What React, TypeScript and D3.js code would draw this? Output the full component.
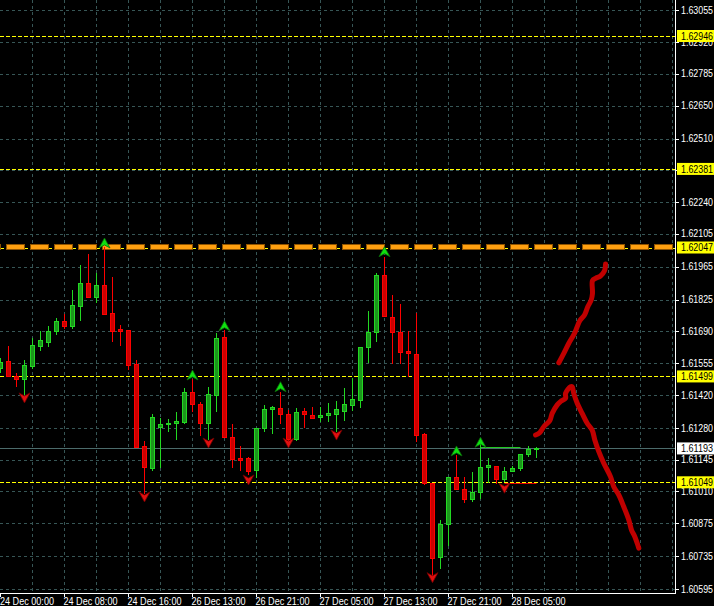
import React from 'react';
import * as d3 from 'd3';

// ---- data (H1 candles) ----
const opens = [1.61535,1.61565,1.61502,1.61487,1.61544,1.61629,1.61646,1.61693,1.61735,1.61715,
1.61799,1.61896,1.61838,1.61887,1.61769,1.61701,1.61696,1.61551,1.61203,1.61109,
1.61283,1.61296,1.61300,1.61307,1.61431,1.61380,1.61300,1.61420,1.61668,1.61240,
1.61152,1.61152,1.61100,1.61279,1.61360,1.61364,1.61338,1.61233,1.61351,1.61334,
1.61325,1.61334,1.61338,1.61354,1.61378,1.61398,1.61622,1.61686,1.61930,1.61750,
1.61687,1.61607,1.61594,1.61254,1.61047,1.60730,1.60871,1.61071,1.61019,1.60979,
1.61007,1.61116,1.61120,1.61063,1.61096,1.61109,1.61168,1.61189];
const highs = [1.61578,1.61628,1.61512,1.61569,1.61662,1.61692,1.61713,1.61746,1.61763,1.61866,
1.61973,1.62021,1.61937,1.62049,1.61921,1.61718,1.61696,1.61569,1.61224,1.61340,
1.61321,1.61317,1.61347,1.61448,1.61487,1.61390,1.61455,1.61682,1.61696,1.61297,
1.61203,1.61157,1.61279,1.61377,1.61373,1.61434,1.61356,1.61364,1.61365,1.61368,
1.61369,1.61384,1.61393,1.61451,1.61492,1.61622,1.61777,1.61937,1.62008,1.61845,
1.61807,1.61691,1.61768,1.61257,1.61047,1.60889,1.61071,1.61165,1.61071,1.61094,
1.61229,1.61151,1.61120,1.61116,1.61120,1.61169,1.61203,1.61198];
const lows = [1.61518,1.61501,1.61460,1.61425,1.61534,1.61611,1.61629,1.61678,1.61704,1.61706,
1.61739,1.61837,1.61817,1.61766,1.61649,1.61632,1.61531,1.61200,1.61005,1.61103,
1.61112,1.61268,1.61233,1.61303,1.61350,1.61250,1.61232,1.61350,1.61243,1.61112,
1.61100,1.61085,1.61073,1.61268,1.61260,1.61301,1.61210,1.61229,1.61286,1.61321,
1.61311,1.61310,1.61266,1.61315,1.61358,1.61370,1.61562,1.61651,1.61754,1.61556,
1.61556,1.61500,1.61223,1.61041,1.60656,1.60683,1.60783,1.61019,1.60966,1.60971,
1.60981,1.61049,1.61045,1.61055,1.61095,1.61100,1.61162,1.61157];
const closes = [1.61561,1.61502,1.61488,1.61548,1.61632,1.61654,1.61692,1.61735,1.61715,1.61803,
1.61896,1.61838,1.61887,1.61766,1.61693,1.61691,1.61549,1.61200,1.61115,1.61326,
1.61297,1.61303,1.61309,1.61434,1.61380,1.61300,1.61423,1.61662,1.61243,1.61148,
1.61143,1.61098,1.61279,1.61360,1.61368,1.61338,1.61233,1.61347,1.61338,1.61321,
1.61334,1.61343,1.61360,1.61381,1.61402,1.61622,1.61686,1.61930,1.61754,1.61686,
1.61604,1.61598,1.61250,1.61047,1.60726,1.60872,1.61071,1.61019,1.60979,1.61007,
1.61116,1.61122,1.61063,1.61098,1.61110,1.61169,1.61189,1.61193];

const timeLabels = ['24 Dec 00:00','24 Dec 08:00','24 Dec 16:00','26 Dec 13:00','26 Dec 21:00','27 Dec 05:00','27 Dec 13:00','27 Dec 21:00','28 Dec 05:00'];
const priceTicks = [1.63055,1.62920,1.62785,1.62650,1.62510,1.62375,1.62240,1.62105,1.61965,1.61825,1.61690,1.61555,1.61420,1.61280,1.61145,1.61010,1.60875,1.60735,1.60595];

const yellowLevels = [1.62946, 1.62381, 1.62047, 1.61499, 1.61049];
const orangeLevel = 1.62047;
const bidPrice = 1.61193;

const upFractalIdx = [13, 24, 28, 35, 48, 57, 60];
const upFractalVal = [1.62045, 1.61484, 1.61693, 1.61434, 1.62008, 1.61161, 1.61198];
const downFractalIdx = [3, 18, 26, 31, 36, 42, 54, 63];
const downFractalVal = [1.61429, 1.61008, 1.61237, 1.61080, 1.61237, 1.61271, 1.60665, 1.61045];

const greenSegFrom = 60, greenSegTo = 65, greenSegVal = 1.61197;
const redSegFrom = 63, redSegTo = 67, redSegVal = 1.61045;

// hand-drawn annotation strokes (bar index, price)
const stroke1Idx = [69.79,70.41,71.04,71.75,72.41,73.0,73.41,73.84,74.0,74.0,74.38,75.0,75.5,75.63];
const stroke1Px = [1.61557,1.61597,1.61640,1.61682,1.61736,1.61760,1.61795,1.61824,1.61852,1.61906,1.61916,1.61926,1.61948,1.61977];
const stroke2Idx = [66.88,67.41,67.91,68.66,68.96,69.59,70.0,70.63,70.63,71.25,71.46,71.66,72.09,72.71,73.34,73.96,74.29,74.79,75.41,76.25,76.66,77.29,77.91,78.54,78.88,79.29,79.59,79.79];
const stroke2Px = [1.61250,1.61260,1.61285,1.61311,1.61342,1.61378,1.61392,1.61406,1.61427,1.61455,1.61455,1.61427,1.61385,1.61342,1.61300,1.61271,1.61229,1.61179,1.61130,1.61073,1.61030,1.60995,1.60945,1.60889,1.60846,1.60818,1.60790,1.60769];

const FONT = '"Liberation Sans", Arial, sans-serif';

export default function App() {
  const W = 714, H = 606;
  const plotR = 675, plotB = 593;
  const x = d3.scaleLinear().domain([0, 84]).range([0.5, 672.5]);
  const y = d3.scaleLinear().domain([1.61049, 1.62946]).range([482.3, 36]);

  const bull = { wick: '#22d822', stroke: '#22d822', fill: '#1c961c' };
  const bear = { wick: '#ff0000', stroke: '#ff0000', fill: '#cc0000' };

  const vGrid = d3.range(4, 85, 4).map((i) => x(i)).filter((v) => v < plotR);
  const line = d3.line<[number, number]>().x((d) => x(d[0])).y((d) => y(d[1])).curve(d3.curveCatmullRom);
  const s1 = line(stroke1Idx.map((v, k) => [v, stroke1Px[k]] as [number, number])) || '';
  const s2 = line(stroke2Idx.map((v, k) => [v, stroke2Px[k]] as [number, number])) || '';

  const upArrow = 'M0,0 L5.5,10 L0,7 L-5.5,10 Z';
  const downArrow = 'M0,0 L5.5,-10 L0,-7 L-5.5,-10 Z';

  return (
    <svg width={W} height={H} style={{ position: 'absolute', left: 0, top: 0, display: 'block', background: '#000' }}>
      <rect x={0} y={0} width={W} height={H} fill="#000" />
      <defs>
        <clipPath id="plot"><rect x={0} y={0} width={plotR} height={plotB} /></clipPath>
      </defs>
      <g clipPath="url(#plot)">
        {/* grid */}
        {priceTicks.map((p, k) => (
          <line key={'hg' + k} x1={0} x2={plotR} y1={Math.round(y(p)) + 0.5} y2={Math.round(y(p)) + 0.5} stroke="#375656" strokeDasharray="3,3" />
        ))}
        {vGrid.map((vx, k) => (
          <line key={'vg' + k} x1={vx} x2={vx} y1={0} y2={plotB} stroke="#375656" strokeDasharray="3,3" />
        ))}
        {/* yellow levels */}
        {yellowLevels.map((p, k) => (
          <line key={'yl' + k} x1={0} x2={plotR} y1={Math.round(y(p)) + 0.5} y2={Math.round(y(p)) + 0.5} stroke="#ffff00" strokeDasharray="4,2" />
        ))}
        {/* orange thick dashed level */}
        <line x1={0} x2={plotR} y1={y(orangeLevel) - 0.5} y2={y(orangeLevel) - 0.5} stroke="#8f5400" strokeWidth={6} strokeDasharray="19,5" strokeDashoffset={18} />
        <line x1={0} x2={plotR} y1={y(orangeLevel) - 0.5} y2={y(orangeLevel) - 0.5} stroke="#ffa010" strokeWidth={4} strokeDasharray="17,7" strokeDashoffset={17} />
        {/* bid line */}
        <line x1={0} x2={plotR} y1={Math.round(y(bidPrice)) + 0.5} y2={Math.round(y(bidPrice)) + 0.5} stroke="#4c6c6c" />
        {/* candles */}
        {opens.map((o, i) => {
          const c = closes[i];
          const up = c >= o;
          const col = up ? bull : bear;
          const cx = x(i);
          const yt = Math.round(y(Math.max(o, c))) + 0.5;
          const yb = Math.round(y(Math.min(o, c))) + 0.5;
          const yh = Math.round(y(highs[i]));
          const yl = Math.round(y(lows[i])) + 1;
          return (
            <g key={'c' + i}>
              <line x1={cx} x2={cx} y1={yh} y2={yl} stroke={col.wick} />
              {yb - yt >= 1 ? (
                <rect x={cx - 2} y={yt} width={4} height={yb - yt} fill={col.fill} stroke={col.stroke} />
              ) : (
                <line x1={cx - 2.5} x2={cx + 2.5} y1={yt} y2={yt} stroke={col.stroke} />
              )}
            </g>
          );
        })}
        {/* fractal level segments */}
        <line x1={x(greenSegFrom)} x2={x(greenSegTo)} y1={Math.round(y(greenSegVal)) + 0.5} y2={Math.round(y(greenSegVal)) + 0.5} stroke="#22c822" />
        <line x1={x(redSegFrom)} x2={x(redSegTo)} y1={Math.round(y(redSegVal)) + 0.5} y2={Math.round(y(redSegVal)) + 0.5} stroke="#e00000" />
        {/* fractal arrows */}
        {upFractalIdx.map((i, k) => (
          <path key={'ua' + k} d={upArrow} transform={`translate(${x(i)},${y(upFractalVal[k]) - 10})`} fill="#10e010" stroke="#0a6a0a" strokeWidth={0.8} />
        ))}
        {downFractalIdx.map((i, k) => (
          <path key={'da' + k} d={downArrow} transform={`translate(${x(i)},${y(downFractalVal[k]) + 10})`} fill="#e01010" stroke="#700000" strokeWidth={0.8} />
        ))}
        {/* hand-drawn strokes */}
        <path d={s1} fill="none" stroke="#c00000" strokeWidth={5} strokeLinecap="round" strokeLinejoin="round" />
        <path d={s2} fill="none" stroke="#c00000" strokeWidth={5} strokeLinecap="round" strokeLinejoin="round" />
      </g>
      {/* axes */}
      <line x1={plotR + 0.5} x2={plotR + 0.5} y1={0} y2={plotB + 1} stroke="#ffffff" />
      <line x1={0} x2={plotR + 1} y1={plotB + 0.5} y2={plotB + 0.5} stroke="#ffffff" />
      {priceTicks.map((p, k) => (
        <g key={'pt' + k}>
          <line x1={plotR} x2={plotR + 4} y1={Math.round(y(p)) + 0.5} y2={Math.round(y(p)) + 0.5} stroke="#ffffff" />
          <text x={681} y={y(p) + 3.6} fill="#ffffff" fontFamily={FONT} fontSize={10} textLength={32} lengthAdjust="spacingAndGlyphs">{p.toFixed(5)}</text>
        </g>
      ))}
      {yellowLevels.map((p, k) => (
        <g key={'yb' + k}>
          <rect x={677} y={y(p) - 6} width={37} height={12} fill="#ffff00" />
          <text x={681} y={y(p) + 3.6} fill="#000000" fontFamily={FONT} fontSize={10} textLength={32} lengthAdjust="spacingAndGlyphs">{p.toFixed(5)}</text>
        </g>
      ))}
      <rect x={677} y={y(bidPrice) - 6} width={37} height={12} fill="#ffffff" />
      <text x={681} y={y(bidPrice) + 3.6} fill="#000000" fontFamily={FONT} fontSize={10} textLength={32} lengthAdjust="spacingAndGlyphs">{bidPrice.toFixed(5)}</text>
      {timeLabels.map((t, k) => {
        const tx = x(k * 8) - 0.5;
        return (
          <g key={'tl' + k}>
            <line x1={tx + 0.5} x2={tx + 0.5} y1={plotB} y2={plotB + 4} stroke="#ffffff" />
            <text x={Math.max(0, tx - 0.5)} y={604.5} fill="#ffffff" fontFamily={FONT} fontSize={10} textLength={54} lengthAdjust="spacingAndGlyphs">{t}</text>
          </g>
        );
      })}
    </svg>
  );
}
